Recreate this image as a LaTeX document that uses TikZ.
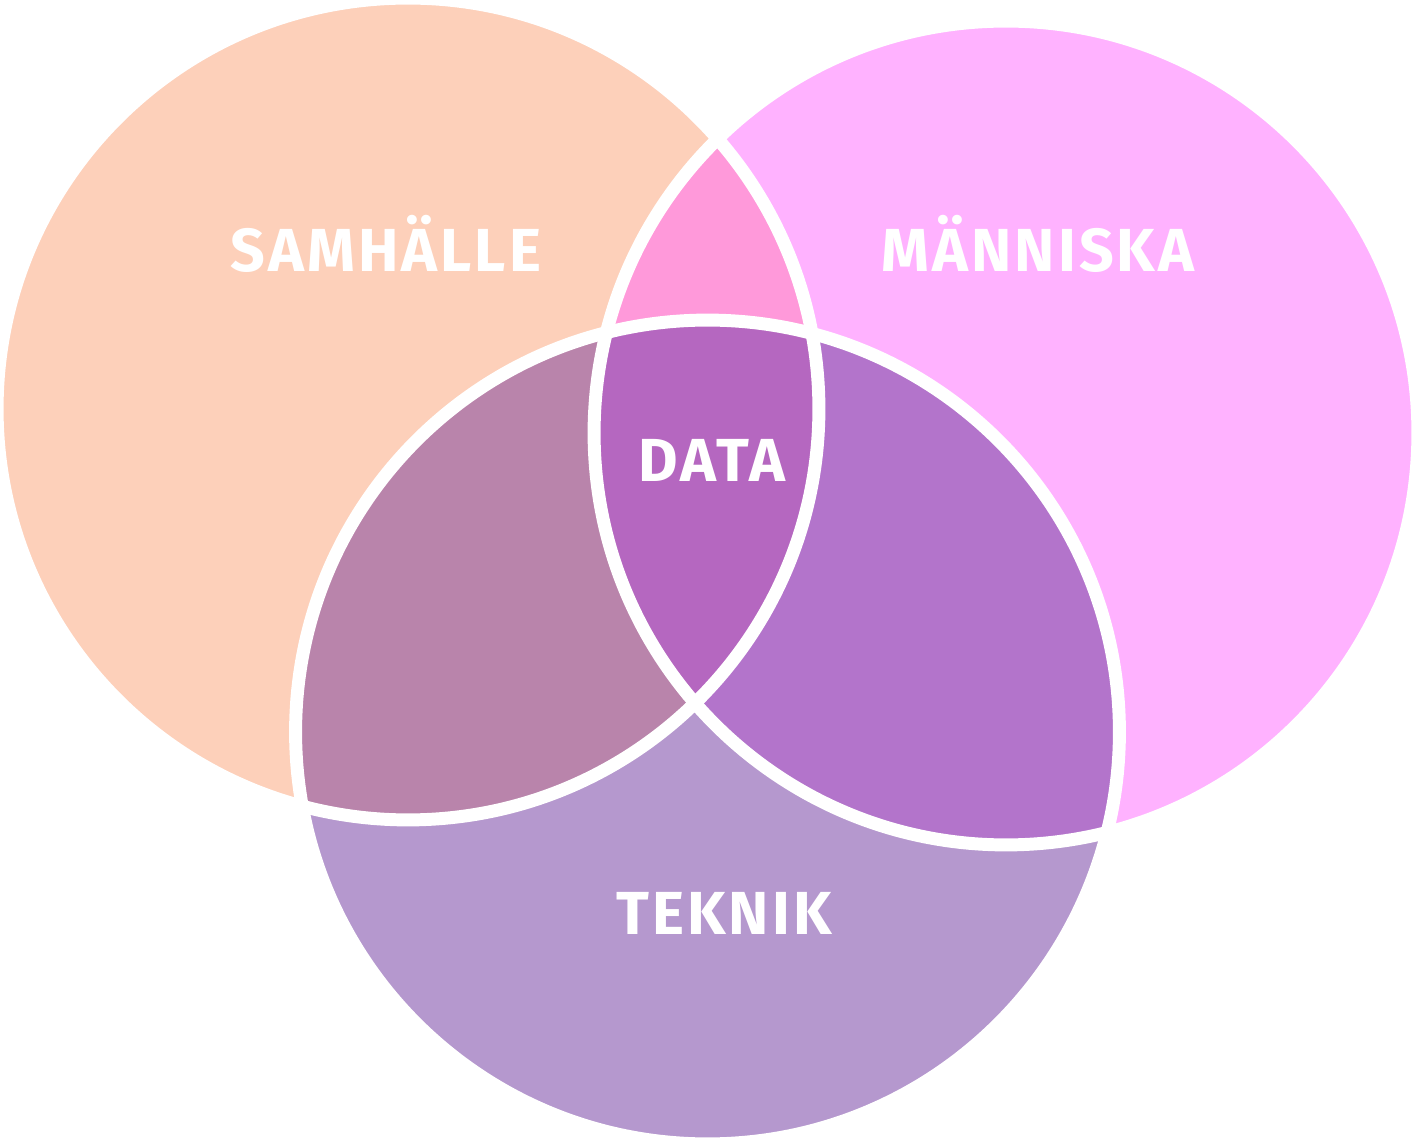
\documentclass[tikz,border=0pt]{standalone}
\usepackage{fontspec}
\setmainfont{Fira Sans}[LetterSpace=5]
\definecolor{samC}{HTML}{FDD0BA}
\definecolor{manC}{HTML}{FFB2FF}
\definecolor{tekC}{HTML}{B598CE}
\definecolor{smC}{HTML}{FF99DA}
\definecolor{stC}{HTML}{B984AB}
\definecolor{mtC}{HTML}{B374CB}
\definecolor{allC}{HTML}{B567C0}
\begin{document}
\begin{tikzpicture}[x=0.02cm,y=-0.02cm,
  ring/.style={draw=white,line width=13*0.567pt},
  lbl/.style={text=white,anchor=base,inner sep=0pt,font=\fontsize{34.6}{40}\selectfont\bfseries}]
\fill[white] (0,0) rectangle (1413,1141);
\useasboundingbox (0,0) rectangle (1413,1141);
\coordinate (S) at (408,409);
\coordinate (M) at (1006,433);
\coordinate (T) at (707.5,732);
\def\rS{8.22cm}
\def\rM{8.24cm}
\def\rT{8.24cm}
\fill[samC] (S) circle (\rS);
\fill[manC] (M) circle (\rM);
\fill[tekC] (T) circle (\rT);
\begin{scope}\clip (S) circle (\rS); \fill[smC] (M) circle (\rM);\end{scope}
\begin{scope}\clip (S) circle (\rS); \fill[stC] (T) circle (\rT);\end{scope}
\begin{scope}\clip (M) circle (\rM); \fill[mtC] (T) circle (\rT);\end{scope}
\begin{scope}\clip (S) circle (\rS); \clip (M) circle (\rM); \fill[allC] (T) circle (\rT);\end{scope}
\draw[ring] (S) circle (\rS);
\draw[ring] (M) circle (\rM);
\draw[ring] (T) circle (\rT);
\node[lbl] (sam) at (386,272) {SAMHÄLLE};
\node[lbl] (man) at (1038,272) {MÄNNISKA};
\node[lbl] (data) at (712,482) {DATA};
\node[lbl] (tek) at (724,934) {TEKNIK};
\end{tikzpicture}
\end{document}
